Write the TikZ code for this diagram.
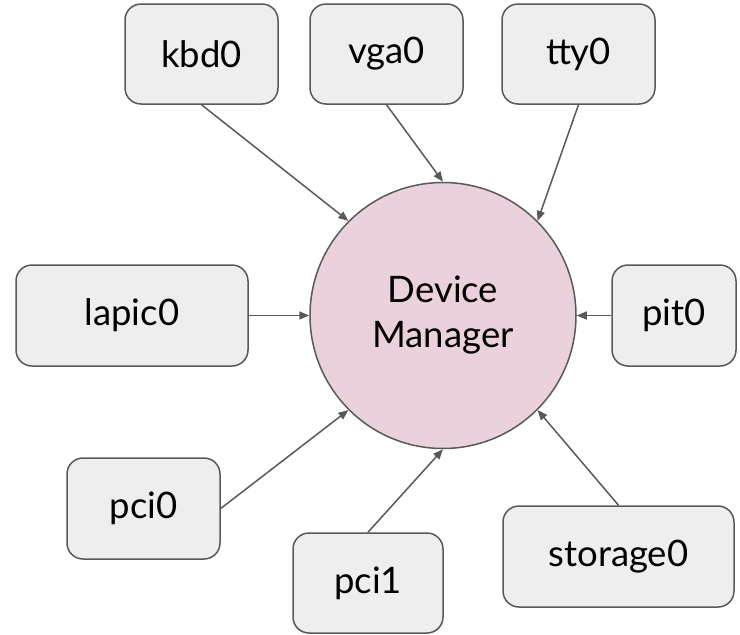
\documentclass[tikz,border=0pt]{standalone}
\usepackage{fontspec}
\setmainfont{Lato}
\usetikzlibrary{arrows.meta}
\definecolor{boxfill}{HTML}{EEEEEE}
\definecolor{edgegray}{HTML}{595959}
\definecolor{dmfill}{HTML}{EAD1DC}
\begin{document}
\begin{tikzpicture}[x=1pt,y=-1pt,
  devbox/.style={draw=edgegray, fill=boxfill, line width=1.5pt, rounded corners=16pt,
    font=\fontsize{36.5}{45}\selectfont, inner sep=0pt, minimum height=100pt, align=center},
  conn/.style={draw=edgegray, line width=1.5pt, -{Triangle[length=10pt,width=8pt]}}]
\useasboundingbox (0,0) rectangle (740,635);
\node[draw=edgegray, fill=dmfill, line width=1.5pt, circle, minimum size=266pt, inner sep=0pt,
  font=\fontsize{36.5}{45}\selectfont, align=center] (dm) at (443,315.5) {Device\\Manager};
\node[devbox, minimum width=153pt] (kbd0) at (201.5,54) {kbd0};
\node[devbox, minimum width=153pt] (vga0) at (386.5,54) {vga0};
\node[devbox, minimum width=153pt] (tty0) at (578.5,54) {tty0};
\node[devbox, minimum width=232pt, minimum height=101pt] (lapic0) at (132,315.5) {lapic0};
\node[devbox, minimum width=124pt, minimum height=101pt] (pit0) at (674,315.5) {pit0};
\node[devbox, minimum width=153pt, minimum height=101pt] (pci0) at (143.5,508.5) {pci0};
\node[devbox, minimum width=150pt] (pci1) at (368,583) {pci1};
\node[devbox, minimum width=231pt, minimum height=101pt] (storage0) at (618.5,556.5) {storage0};
\draw[conn] (kbd0.south) -- (dm.135);
\draw[conn] (vga0.south) -- (dm.90);
\draw[conn] (tty0.south) -- (dm.45);
\draw[conn] (lapic0.east) -- (dm.180);
\draw[conn] (pit0.west) -- (dm.0);
\draw[conn] (pci0.east) -- (dm.225);
\draw[conn] (pci1.north) -- (dm.270);
\draw[conn] (storage0.north) -- (dm.315);
\end{tikzpicture}
\end{document}
